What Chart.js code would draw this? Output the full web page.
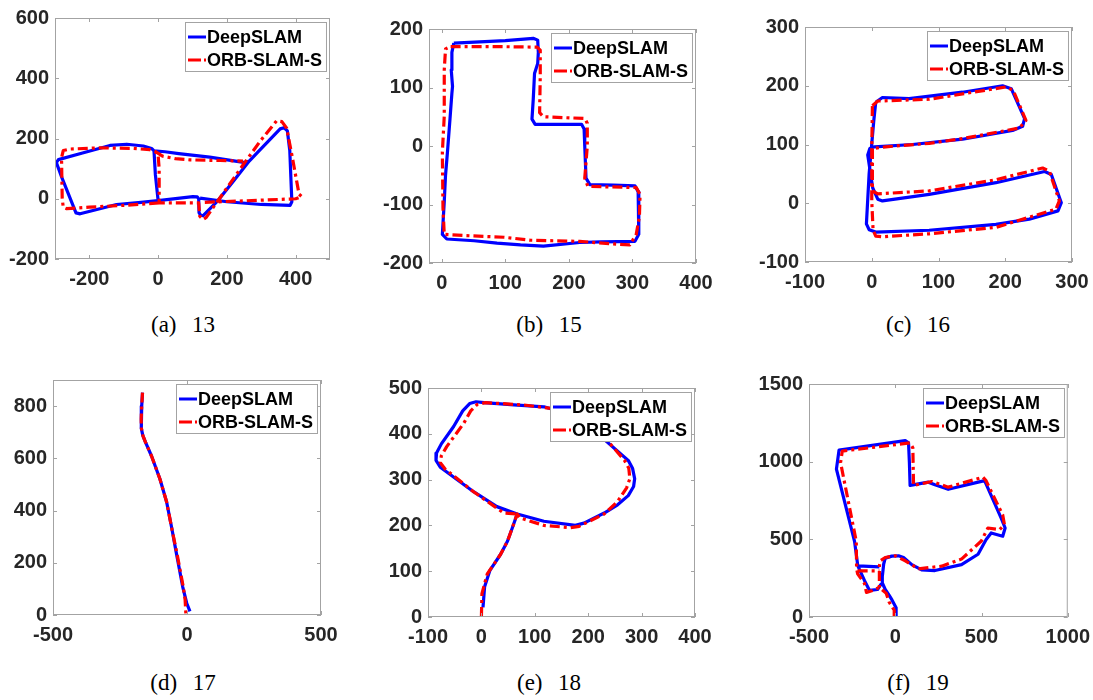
<!DOCTYPE html>
<html>
<head>
<meta charset="utf-8">
<script src="https://cdn.jsdelivr.net/npm/chart.js@4.4.0/dist/chart.umd.min.js"></script>
<style>
  body { margin: 0; background: #fff; width: 1093px; height: 700px; position: relative; overflow: hidden; }
  canvas { position: absolute; }
  .cap { position: absolute; font: 23px 'Liberation Serif', 'Times New Roman', serif; white-space: pre; word-spacing: 2px; transform: translate(-50%, -50%); color: #000; }
</style>
</head>
<body>
<script>
'use strict';

//names and captions
const seriesNames = ['DeepSLAM', 'ORB-SLAM-S'];
const captions = ['(a)  13', '(b)  15', '(c)  16', '(d)  17', '(e)  18', '(f)  19'];

//trajectories ([x, y], null = pen up)
const deep13 = [[0,-6],[-8,80],[-12,159],[-19,167],[-43,175],[-91,181],[-140,177],[-220,152],[-290,130],[-296,120],[-280,70],[-239,-47],[-227,-50],[-121,-19],[-50,-12],[0,-6],[101,7],[114,6],[118,0],[119,-46],[124,-55],[131,-56],[174,-6],[220,60],[265,125],[290,155],[355,232],[366,236],[376,225],[383,160],[389,-10],[384,-22],[300,-19],[200,-10],[122,2],null,[-12,159],[20,156],[60,150],[150,138],[253,120],[265,125]];
const orb13 = [[3,-14],[-100,-22],[-200,-28],[-266,-33],[-276,-28],[-279,0],[-281,136],[-276,160],[-256,165],[-169,169],[-72,167],[-24,163],[-9,157],[0,145],[3,100],[3,-14],[60,-14],[118,-14],[121,-58],[131,-69],[140,-62],[175,-5],[247,112],[296,190],[345,259],[360,256],[374,234],[390,140],[410,15],[418,7],[400,0],[250,-7],[130,-12],null,[-9,157],[14,141],[50,133],[93,129],[180,127],[247,125]];

const deep15 = [[19,176],[60,178],[100,180],[144,184],[151,181],[152,160],[151,141],[146,124],[144,80],[142,46],[147,37],[180,37],[220,37],[224,29],[225,0],[227,-55],[233,-66],[270,-67],[304,-68],[309,-78],[310,-110],[310,-151],[304,-163],[250,-164],[217,-165],[160,-171],[124,-169],[87,-166],[51,-162],[8,-159],[1,-151],[4,-95],[6,-50],[9,-11],[13,46],[16,90],[17,102],[15,130],[16,160],[19,176]];
const orb15 = [[14,170],[80,170],[150,169],[155,164],[155,120],[154,57],[160,50],[225,47],[229,39],[229,0],[225,-55],[230,-69],[306,-71],[312,-83],[311,-120],[306,-151],[296,-169],[264,-167],[217,-163],[139,-161],[98,-156],[35,-153],[4,-151],[2,-106],[1,-11],[4,51],[4,130],[6,166],[14,170]];

const deep16 = [[6,172],[16,180],[56,178],[136,189],[196,200],[209,195],[229,144],[226,131],[211,124],[136,109],[61,100],[4,96],[-3,93],[-6,82],[1.5,26],[9,7],[16,4],[86,15],[186,35],[259,54],[269,49],[284,1],[279,-13],[236,-27],[186,-36],[86,-46],[6,-49],[-4,-45],[-8,-35],[-4,49],[-1,88],[3,140],[6,172]];
const orb16 = [[1,166],[9,174],[86,177],[201,198],[212,192],[231,141],[221,128],[136,110],[86,102],[21,96],[1,93],[1,60],[1,21],[9,16],[86,21],[186,40],[256,60],[266,55],[281,4],[276,-10],[186,-41],[86,-52],[16,-57],[6,-56],[2,-46],[0,4],[0,90],[1,166]];

const deep17 = [[-166,852],[-169,800],[-171,750],[-170,715],[-165,688],[-155,662],[-132,608],[-101,521],[-76,433],[-57,333],[-39,233],[-16,108],[-1,45],[11,14]];
const orb17 = [[-166,852],[-169,800],[-171,750],[-170,715],[-165,688],[-155,662],[-132,608],[-101,521],[-76,433],[-57,333],[-37,233],[-14,108],[-7,58],[-4,0]];

const deep18 = [[3,21],[6,66],[16,102],[36,137],[49,166],[58,195],[67,225],[117,209],[176,200],[192,205],[230,227],[255,245],[275,265],[285,285],[287,302],[283,325],[275,342],[261,356],[223,395],[180,438],[117,459],[61,463],[5,468],[-10,470],[-22,466],[-35,450],[-52,416],[-75,378],[-84,358],[-85,342],[-77,327],[-14,273],[29,241],[67,225]];
const orb18 = [[0,0],[1,51],[11,94],[36,137],[49,166],[58,195],[67,225],[73,216],[117,200],[167,195],[183,198],[230,225],[255,252],[272,282],[278,302],[276,325],[268,342],[242,377],[205,416],[155,452],[79,463],[8,468],[-8,464],[-20,450],[-33,423],[-65,372],[-75,352],[-77,337],[-68,323],[-14,273],[42,227],[67,225]];

const deep19 = [[5,5],[5,60],[-19,110],[-35,139],[-58,177],[-73,215],[-75,260],[-67,341],[-58,379],[-20,392],[19,394],[48,383],[96,337],[153,303],[230,299],[384,337],[480,404],[527,499],[556,541],[623,520],[637,573],[614,636],[518,878],[307,822],[230,851],[192,868],[86,847],[82,994],[77,1121],[58,1135],[-326,1074],[-341,952],[-236,487],[-217,329],[-92,323],null,[-217,329],[-178,234],[-149,171],[-103,177],[-80,215]];
const orb19 = [[-6,0],[-6,44],[-35,95],[-52,152],[-92,190],[-132,171],[-167,158],[-178,215],[-218,278],[-224,310],[-226,487],[-317,994],[-307,1068],[86,1121],[102,1089],[106,847],[211,872],[307,836],[508,900],[525,880],[623,657],[633,594],[604,562],[537,573],[499,489],[384,373],[269,327],[134,310],[58,362],[0,394],[-58,383],[-86,362],[-92,329],[-92,190],null,[-218,297],[-92,297]];

//axis limits and tick labels
const xRange13 = [-300, 500], yRange13 = [-200, 600];
const xTicks13 = [-200, 0, 200, 400], yTicks13 = [-200, 0, 200, 400, 600];
const xRange15 = [-20, 400], yRange15 = [-200, 200];
const xTicks15 = [0, 100, 200, 300, 400], yTicks15 = [-200, -100, 0, 100, 200];
const xRange16 = [-100, 300], yRange16 = [-100, 300];
const xTicks16 = [-100, 0, 100, 200, 300], yTicks16 = [-100, 0, 100, 200, 300];
const xRange17 = [-500, 500], yRange17 = [0, 900];
const xTicks17 = [-500, 0, 500], yTicks17 = [0, 200, 400, 600, 800];
const xRange18 = [-100, 400], yRange18 = [0, 500];
const xTicks18 = [-100, 0, 100, 200, 300, 400], yTicks18 = [0, 100, 200, 300, 400, 500];
const xRange19 = [-500, 1000], yRange19 = [0, 1500];
const xTicks19 = [-500, 0, 500, 1000], yTicks19 = [0, 500, 1000, 1500];

//layout: plot boxes [left, top, right, bottom] on the page
const boxes = [[55,14,330,259],[429,25,696,263],[805,23,1072,262],[53,376,321,615],[428,384,695,617],[809,380,1070,617]];
const capPos = [[183,325],[549,325],[918,325],[183,683],[549,683],[918,683]];

const axisColor = '#a3a3a3';
const textColor = '#262626';
const tickFont = {family: "'Liberation Sans', Arial, sans-serif", size: 20, weight: 'bold'};
const legendFont = "bold 18px 'Liberation Sans', Arial, sans-serif";
const orbDash = [10, 4, 3, 4];
const lineW = 3.2;
const yAxisW = 55, xAxisH = 34, padTop = 14, padRight = 28;

function toPts(arr) {
  return arr.map(p => p ? {x: p[0], y: p[1]} : {x: null, y: null});
}

// box round the axes plus inward ticks on all four sides
const framePlugin = {
  id: 'frame',
  afterDatasetsDraw(chart) {
    const {ctx, chartArea: a, scales} = chart;
    ctx.save();
    ctx.strokeStyle = axisColor;
    ctx.lineWidth = 1;
    ctx.strokeRect(a.left + 0.5, a.top + 0.5, a.right - a.left - 1, a.bottom - a.top - 1);
    ctx.beginPath();
    scales.x.ticks.forEach(t => {
      let px = Math.round(scales.x.getPixelForValue(t.value)) + 0.5;
      ctx.moveTo(px, a.bottom); ctx.lineTo(px, a.bottom - 4);
      ctx.moveTo(px, a.top); ctx.lineTo(px, a.top + 4);
    });
    scales.y.ticks.forEach(t => {
      let py = Math.round(scales.y.getPixelForValue(t.value)) + 0.5;
      ctx.moveTo(a.left, py); ctx.lineTo(a.left + 4, py);
      ctx.moveTo(a.right, py); ctx.lineTo(a.right - 4, py);
    });
    ctx.stroke();
    ctx.restore();
  }
};

// matlab style legend inside the top right corner
const legendPlugin = {
  id: 'boxLegend',
  afterDraw(chart) {
    const {ctx, chartArea: a} = chart;
    ctx.save();
    ctx.font = legendFont;
    let textW = Math.max(...seriesNames.map(n => ctx.measureText(n).width));
    let w = 22 + textW + 4, h = 49;
    let x0 = Math.round(a.right - 4 - w), y0 = Math.round(a.top + 4);
    ctx.fillStyle = '#fff';
    ctx.fillRect(x0, y0, w, h);
    ctx.strokeStyle = axisColor;
    ctx.lineWidth = 1;
    ctx.strokeRect(x0 + 0.5, y0 + 0.5, w, h);
    let rows = [y0 + 15, y0 + 38];
    ctx.lineWidth = 3;
    ctx.strokeStyle = '#0000ff';
    ctx.beginPath(); ctx.moveTo(x0 + 3, rows[0]); ctx.lineTo(x0 + 21, rows[0]); ctx.stroke();
    ctx.strokeStyle = '#ff0000';
    ctx.setLineDash([13, 3, 2, 3]);
    ctx.beginPath(); ctx.moveTo(x0 + 3, rows[1]); ctx.lineTo(x0 + 21, rows[1]); ctx.stroke();
    ctx.setLineDash([]);
    ctx.fillStyle = '#000';
    ctx.textBaseline = 'middle';
    ctx.fillText(seriesNames[0], x0 + 22, rows[0] + 1);
    ctx.fillText(seriesNames[1], x0 + 22, rows[1] + 1);
    ctx.restore();
  }
};

function axis(range, ticks, isX) {
  return {
    type: 'linear',
    min: range[0],
    max: range[1],
    afterBuildTicks: s => { s.ticks = ticks.map(v => ({value: v})); },
    afterFit: s => { if (isX) s.height = xAxisH; else s.width = yAxisW; },
    grid: {display: false, drawTicks: false},
    border: {display: false},
    ticks: {font: tickFont, color: textColor, padding: isX ? 8 : 6, maxRotation: 0, autoSkip: false, callback: v => String(v)}
  };
}

function makePlot(i, deep, orb, xr, yr, xt, yt) {
  let b = boxes[i];
  let c = document.createElement('canvas');
  let w = b[2] - b[0] + yAxisW + padRight;
  let h = b[3] - b[1] + padTop + xAxisH;
  c.width = w; c.height = h;
  c.style.left = (b[0] - yAxisW) + 'px';
  c.style.top = (b[1] - padTop) + 'px';
  c.style.width = w + 'px'; c.style.height = h + 'px';
  document.body.appendChild(c);

  new Chart(c.getContext('2d'), {
    type: 'scatter',
    data: {
      datasets: [{
        label: seriesNames[1],
        data: toPts(orb),
        showLine: true,
        borderColor: '#ff0000',
        borderWidth: lineW,
        borderDash: orbDash,
        borderJoinStyle: 'round',
        pointRadius: 0,
        tension: 0
      }, {
        label: seriesNames[0],
        data: toPts(deep),
        showLine: true,
        borderColor: '#0000ff',
        borderWidth: lineW,
        borderJoinStyle: 'round',
        pointRadius: 0,
        tension: 0
      }]
    },
    options: {
      responsive: false,
      animation: false,
      layout: {padding: {top: padTop, right: padRight, left: 0, bottom: 0}},
      scales: {x: axis(xr, xt, true), y: axis(yr, yt, false)},
      plugins: {legend: {display: false}, tooltip: {enabled: false}}
    },
    plugins: [framePlugin, legendPlugin]
  });

  let cap = document.createElement('div');
  cap.className = 'cap';
  cap.textContent = captions[i];
  cap.style.left = capPos[i][0] + 'px';
  cap.style.top = capPos[i][1] + 'px';
  document.body.appendChild(cap);
}

makePlot(0, deep13, orb13, xRange13, yRange13, xTicks13, yTicks13);
makePlot(1, deep15, orb15, xRange15, yRange15, xTicks15, yTicks15);
makePlot(2, deep16, orb16, xRange16, yRange16, xTicks16, yTicks16);
makePlot(3, deep17, orb17, xRange17, yRange17, xTicks17, yTicks17);
makePlot(4, deep18, orb18, xRange18, yRange18, xTicks18, yTicks18);
makePlot(5, deep19, orb19, xRange19, yRange19, xTicks19, yTicks19);
</script>
</body>
</html>
